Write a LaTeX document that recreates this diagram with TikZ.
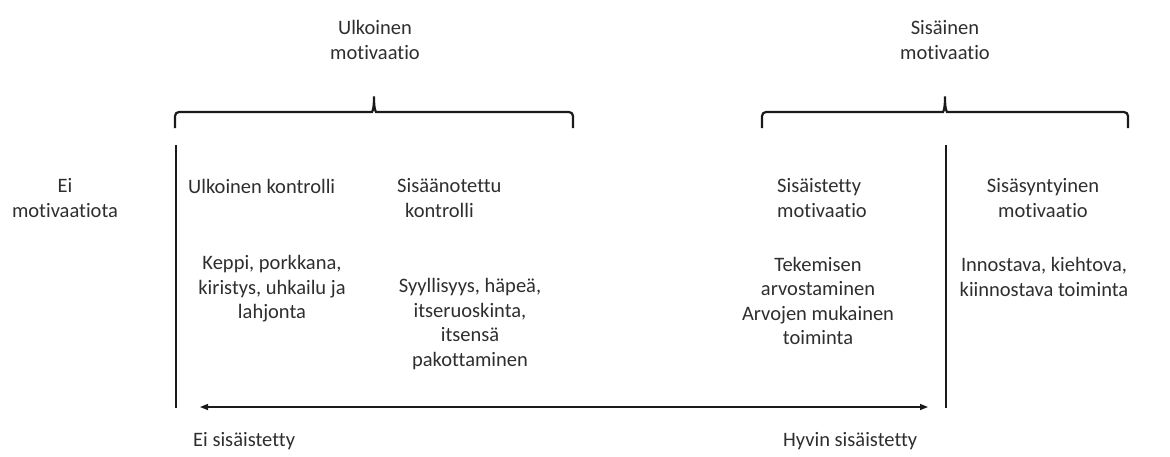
\documentclass[tikz,border=0pt]{standalone}
\usepackage{fontspec}
\setmainfont{Carlito}[Ligatures={NoCommon}]
\usetikzlibrary{arrows.meta}
\definecolor{txtgray}{HTML}{2E2E2E}
\definecolor{linegray}{HTML}{1A1A1A}

\begin{document}
\begin{tikzpicture}[x=1pt, y=-1pt,
  >={Triangle[length=8pt, width=6pt]},
  lbl/.style={text=txtgray, font=\fontsize{20.5}{24.5}\selectfont, inner sep=0pt, align=center},
  brace/.style={linegray, line width=2.2pt, rounded corners=4pt},
  axis/.style={linegray, line width=1.4pt}]

% Canvas
\useasboundingbox (0,0) rectangle (1170,456);

% ================================================================
% Top headings and braces
% ================================================================
\node[lbl] (ulkMot) at (375,40) {Ulkoinen\\motivaatio};
\node[lbl] (sisMotTop) at (945,40) {Sisäinen\\motivaatio};

% left brace
\coordinate (bLa) at (175,128);
\coordinate (bLtip) at (374,94);
\coordinate (bLb) at (573,128);
\draw[brace] (bLa) |- (368,112)
  .. controls (372,112) and (374,110) .. (bLtip)
  .. controls (374,110) and (376,112) .. (380,112) -| (bLb);

% right brace
\coordinate (bRa) at (762,128);
\coordinate (bRtip) at (945,94);
\coordinate (bRb) at (1128,128);
\draw[brace] (bRa) |- (939,112)
  .. controls (943,112) and (945,110) .. (bRtip)
  .. controls (945,110) and (947,112) .. (951,112) -| (bRb);

% ================================================================
% Columns
% ================================================================
\node[lbl] (eiMot) at (65,198) {Ei\\motivaatiota};

\node[lbl, anchor=west] (ulkKontr) at (188,186) {Ulkoinen kontrolli};
\node[lbl, anchor=west, align=left] (sisKontr) at (397,198)
  {Sisäänotettu\\\hspace*{8pt}kontrolli};
\node[lbl, anchor=west, align=left] (sisMot) at (777,198) {Sisäistetty\\motivaatio};
\node[lbl] (sisSynt) at (1043,198) {Sisäsyntyinen\\motivaatio};

\node[lbl] (keppi) at (272,289) {Keppi, porkkana,\\kiristys, uhkailu ja\\lahjonta};
\node[lbl] (syyllisyys) at (470,324)
  {Syyllisyys, häpeä,\\itseruoskinta,\\itsensä\\pakottaminen};
\node[lbl] (tekemisen) at (818,301)
  {Tekemisen\\arvostaminen\\Arvojen mukainen\\toiminta};
\node[lbl] (innostava) at (1044,277) {Innostava, kiehtova,\\kiinnostava toiminta};

% ================================================================
% Dividers and continuum arrow
% ================================================================
\coordinate (divLtop) at (176,145);
\coordinate (divLbot) at (176,408);
\coordinate (divRtop) at (946,145);
\coordinate (divRbot) at (946,408);
\draw[axis] (divLtop) -- (divLbot);
\draw[axis] (divRtop) -- (divRbot);

\coordinate (arrL) at (200,407);
\coordinate (arrR) at (928,407);
\draw[axis, <->] (arrL) -- (arrR);

\node[lbl, anchor=west] (eiSis) at (193,441) {Ei sisäistetty};
\node[lbl, anchor=west] (hyvinSis) at (783,441) {Hyvin sisäistetty};

\end{tikzpicture}
\end{document}
